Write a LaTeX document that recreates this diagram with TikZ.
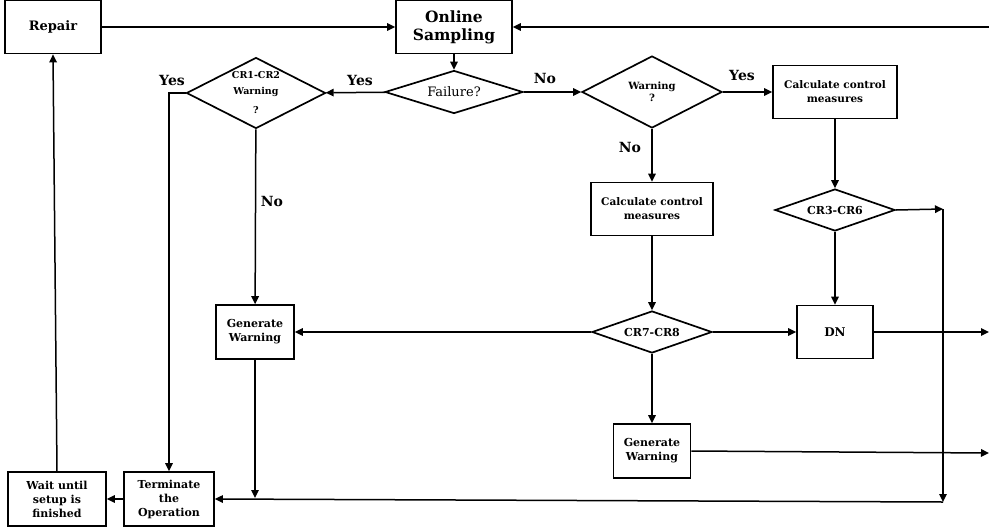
\documentclass[tikz,border=0pt]{standalone}
\usepackage{fontspec}
\setmainfont{DejaVu Serif}
\usetikzlibrary{arrows.meta}
\usetikzlibrary{shapes.geometric, positioning}
\tikzset{
    box/.style={
        rectangle,
        draw=black,
        line width=1.7pt,
        align=center,
        inner sep=1pt,
        font=\bfseries
    },
    decision/.style={
        diamond,
        draw=black,
        line width=1.7pt,
        align=center,
        inner sep=0pt,
        font=\bfseries
    },
    arrow/.style={
        ->,
        >={Triangle[length=8pt,width=7.5pt]},
        line width=1.5pt,
        draw=black
    },
    answer/.style={font=\bfseries\fontsize{14}{16}\selectfont}
}
\newcommand{\fsz}[1]{\fontsize{#1}{#1}\selectfont}

\begin{document}
\begin{tikzpicture}[x=1pt, y=-1pt]
        \useasboundingbox (0,0) rectangle (989,531);

        % Top row
        \node (repair) [box, minimum width=96, minimum height=53, font=\bfseries\fsz{13}] at (53,27) {Repair};
        \node (online) [box, minimum width=116, minimum height=53, font=\bfseries\fontsize{15.5}{18}\selectfont] at (454,27) {Online\\Sampling};
        \coordinate (east_in) at (989,27);

        % Decisions
        \node (failure) [decision, aspect=3.2, minimum width=138, minimum height=43, font=\fsz{13}] at (454,92) {Failure?};
        \node (crA) [decision, aspect=1.96, inner sep=-4pt, minimum width=139, minimum height=71, font=\bfseries\fontsize{9.5}{16}\selectfont] at (256,93) {CR1-CR2\\Warning\\[3pt]?};
        \node (warn) [decision, aspect=1.94, minimum width=140, minimum height=72, font=\bfseries\fontsize{10}{12}\selectfont] at (652,92) {Warning\\?};

        % Control measures
        \node (calcA) [box, minimum width=124, minimum height=53, font=\bfseries\fontsize{10.5}{14}\selectfont] at (835,92) {Calculate control\\measures};
        \node (calcB) [box, minimum width=122, minimum height=53, font=\bfseries\fontsize{10.5}{14}\selectfont] at (652,209) {Calculate control\\measures};
        \node (crB) [decision, aspect=2.86, minimum width=120, minimum height=42, font=\bfseries\fsz{11}] at (835,210) {CR3-CR6};
        \node (crC) [decision, aspect=2.86, minimum width=120, minimum height=42, font=\bfseries\fsz{11}] at (652,332) {CR7-CR8};
        \node (dn) [box, minimum width=76, minimum height=53, font=\bfseries\fsz{12}] at (835,332) {DN};

        % Warnings
        \node (genA) [box, minimum width=78, minimum height=54, font=\bfseries\fontsize{11}{14}\selectfont] at (255,332) {Generate\\Warning};
        \node (genB) [box, minimum width=77, minimum height=54, font=\bfseries\fontsize{11}{14}\selectfont] at (652,451) {Generate\\Warning};

        % Bottom row
        \node (term) [box, minimum width=90, minimum height=54, font=\bfseries\fontsize{11}{14}\selectfont] at (169,499) {Terminate\\the\\Operation};
        \node (wait) [box, minimum width=98, minimum height=54, font=\bfseries\fontsize{11}{14}\selectfont] at (57,499) {Wait until\\setup is\\finished};

        % Free ends
        \coordinate (junction) at (943,209);
        \coordinate (junction_low) at (943,502);
        \coordinate (dn_out) at (989,332);
        \coordinate (gen_out) at (989,453);
        \coordinate (gen_drop) at (255,498);

        % Labels
        \node (yes_fail) [answer] at (360,80) {Yes};
        \node (no_fail) [answer] at (545,78) {No};
        \node (yes_warn) [answer] at (742,75) {Yes};
        \node (no_warn) [answer] at (630,147) {No};
        \node (yes_cr) [answer] at (172,80) {Yes};
        \node (no_cr) [answer] at (272,201) {No};

        % Arrows
        \draw [arrow] (repair) -- (online);
        \draw [arrow] (east_in) -- (online);
        \draw [arrow] (online) -- (failure);
        \draw [arrow] (failure) -- (crA);
        \draw [arrow] (failure) -- (warn);
        \draw [arrow] (warn) -- (calcA);
        \draw [arrow] (warn) -- (calcB);
        \draw [arrow] (calcA) -- (crB);
        \draw [arrow] (calcB) -- (crC);
        \draw [arrow] (crB) -- (dn);
        \draw [arrow] (crC) -- (dn);
        \draw [arrow] (crC) -- (genA);
        \draw [arrow] (crC) -- (genB);
        \draw [arrow] (dn) -- (dn_out);
        \draw [arrow] (genB.east) -- (gen_out);
        \draw [arrow] (crA) -- (genA);
        \draw [arrow] (crA.west) -| (term.north);
        \draw [arrow] (genA) -- (gen_drop);
        \draw [arrow] (crB.east) -- (junction);
        \draw [arrow] (junction) -- (junction_low);
        \draw [arrow] (junction_low) -- (term.east);
        \draw [arrow] (term) -- (wait);
        \draw [arrow] (wait.north) -- (repair.south);

    \end{tikzpicture}
\end{document}
